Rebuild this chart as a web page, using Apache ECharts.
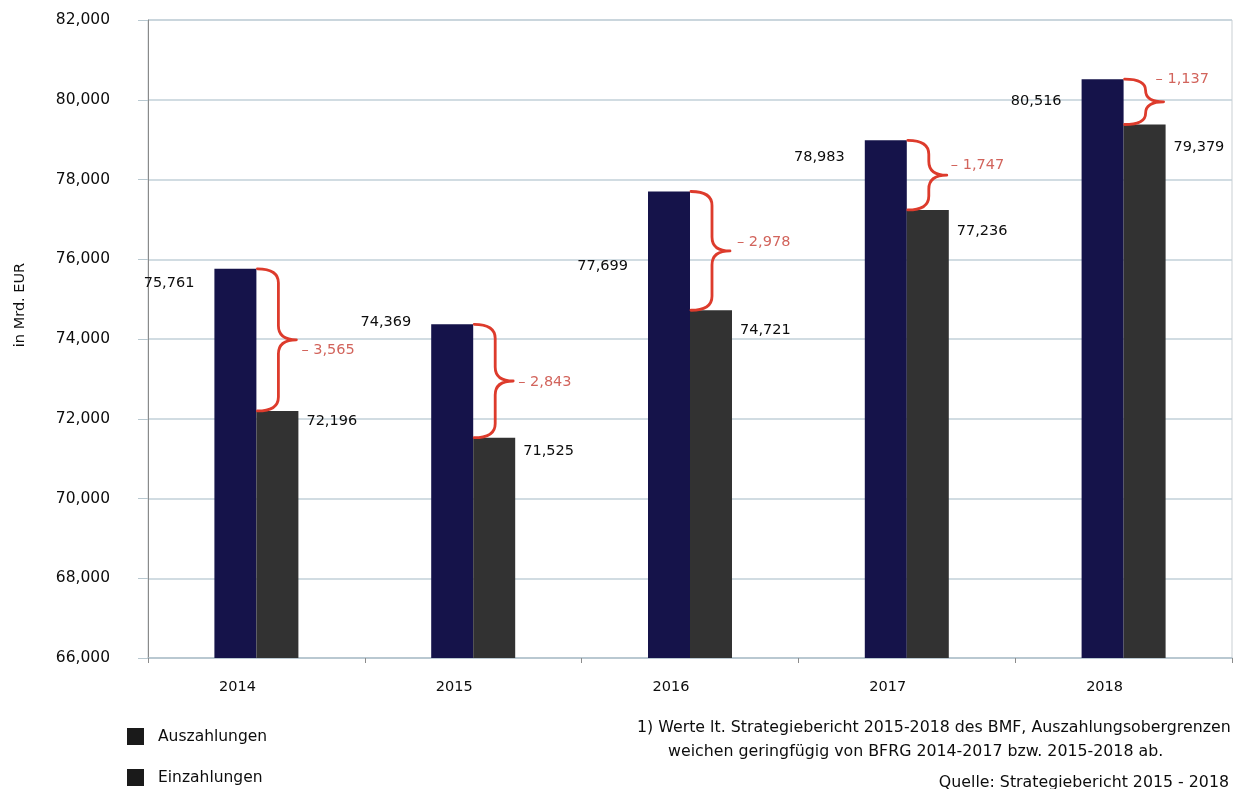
<!DOCTYPE html>
<html>
<head>
<meta charset="utf-8">
<script src="https://cdn.jsdelivr.net/npm/echarts@6/dist/echarts.min.js"></script>
<style>
  html, body { margin: 0; padding: 0; background: #ffffff; }
  #chart { width: 1237px; height: 789px; }
</style>
</head>
<body>
<div id="chart"></div>
<script>
// Budget years and amounts (Mrd. EUR)
const years = ['2014', '2015', '2016', '2017', '2018'];
const auszahlungen = [75761, 74369, 77699, 78983, 80516];
const einzahlungen = [72196, 71525, 74721, 77236, 79379];
const differenz = [3565, 2843, 2978, 1747, 1137];
const yMin = 66000, yMax = 82000, yStep = 2000;

// Vertical nudges of the value labels (px below the bar top)
const auszLabelDy = [14, -2, 75, 17, 22];
const einzLabelDy = [10, 14, 20, 21, 23];
// Placement of each gap label relative to the tip of its brace [dx, dy]
const diffLabelShift = [[5, 10], [5, 1], [7, -9], [4, -10], [-8, -23]];

const FONT = '"DejaVu Sans", sans-serif';
const TEXT = '#0d0d0d';
const NAVY = '#15134a';
const GREY = '#323232';
const RED = '#dd3b2c';
const RED_TEXT = '#d2645c';
const BAR_W = 42;

const fmt = v => Number(v).toLocaleString('en-US');

const chart = echarts.init(document.getElementById('chart'), null, { renderer: 'canvas' });

const auszData = auszahlungen.map((v, i) => ({
  value: v,
  label: { position: [-20, auszLabelDy[i]] }
}));
const einzData = einzahlungen.map((v, i) => ({
  value: v,
  label: { position: [BAR_W + 8, einzLabelDy[i]] }
}));
const braceData = years.map((y, i) => [i, auszahlungen[i], einzahlungen[i], differenz[i]]);

// Curly brace between the tops of the two bars of a year, with the gap value
function renderBrace(params, api) {
  const idx = api.value(0);
  const top = api.coord([idx, api.value(1)]);
  const bot = api.coord([idx, api.value(2)]);
  const x0 = top[0] + 1;
  const xv = x0 + 21;
  const xp = x0 + 39;
  const yT = top[1], yB = bot[1], yM = (yT + yB) / 2;
  const h = yB - yT;
  const r = Math.min(14, h / 4);
  const d = [
    'M', x0, yT,
    'Q', xv, yT, xv, yT + r,
    'L', xv, yM - r,
    'Q', xv, yM, xp, yM,
    'Q', xv, yM, xv, yM + r,
    'L', xv, yB - r,
    'Q', xv, yB, x0, yB
  ].join(' ');
  const shift = diffLabelShift[params.dataIndex];
  return {
    type: 'group',
    children: [
      {
        type: 'path',
        shape: { pathData: d },
        style: { fill: 'none', stroke: RED, lineWidth: 2.8, lineCap: 'round', lineJoin: 'round' }
      },
      {
        type: 'text',
        style: {
          text: '\u2013 ' + fmt(api.value(3)),
          x: xp + shift[0],
          y: yM + shift[1],
          align: 'left',
          verticalAlign: 'middle',
          fill: RED_TEXT,
          font: '14.5px ' + FONT
        }
      }
    ]
  };
}

const option = {
  backgroundColor: '#ffffff',
  animation: false,
  textStyle: { fontFamily: FONT },
  grid: {
    left: 148, right: 5, top: 20, bottom: 131,
    show: true, borderColor: '#c9cfd3', borderWidth: 1
  },
  legend: {
    orient: 'vertical',
    left: 127, top: 728,
    padding: 0,
    itemWidth: 17, itemHeight: 17, itemGap: 24,
    icon: 'rect',
    data: [
      { name: 'Auszahlungen', itemStyle: { color: '#1a1a1a' } },
      { name: 'Einzahlungen', itemStyle: { color: '#1a1a1a' } }
    ],
    textStyle: { fontFamily: FONT, fontSize: 15.5, color: TEXT, padding: [0, 0, 0, 9], lineHeight: 17 }
  },
  xAxis: {
    type: 'category',
    data: years,
    axisLine: { show: true, lineStyle: { color: '#b4c4cd', width: 1.5 } },
    axisTick: { show: true, length: 5, lineStyle: { color: '#8c8c8c' } },
    axisLabel: {
      margin: 22, fontSize: 14.5, color: TEXT, fontFamily: FONT,
      padding: [0, 38, 0, 0]
    },
    splitLine: { show: false }
  },
  yAxis: {
    type: 'value',
    min: yMin, max: yMax, interval: yStep,
    axisLine: { show: true, lineStyle: { color: '#8a8a8a', width: 1 } },
    axisTick: { show: true, length: 10, lineStyle: { color: '#b8c8d0' } },
    axisLabel: { margin: 38, fontSize: 15.5, color: TEXT, fontFamily: FONT, formatter: v => fmt(v) },
    splitLine: { show: true, lineStyle: { color: '#c2d0d8', width: 1.5 } }
  },
  graphic: [
    {
      type: 'text',
      x: 20, y: 305, rotation: Math.PI / 2,
      style: { text: 'in Mrd. EUR', font: '14.5px ' + FONT, fill: TEXT, align: 'center', verticalAlign: 'middle' }
    },
    {
      type: 'text', x: 637, y: 728,
      style: { text: '1) Werte lt. Strategiebericht 2015-2018 des BMF, Auszahlungsobergrenzen', font: '15.8px ' + FONT, fill: TEXT, align: 'left', verticalAlign: 'middle' }
    },
    {
      type: 'text', x: 668, y: 752,
      style: { text: 'weichen geringfügig von BFRG 2014-2017 bzw. 2015-2018 ab.', font: '15.8px ' + FONT, fill: TEXT, align: 'left', verticalAlign: 'middle' }
    },
    {
      type: 'text', x: 1229, y: 783,
      style: { text: 'Quelle: Strategiebericht 2015 - 2018', font: '15.8px ' + FONT, fill: TEXT, align: 'right', verticalAlign: 'middle' }
    }
  ],
  series: [
    {
      name: 'Auszahlungen',
      type: 'bar',
      barWidth: BAR_W,
      barGap: '0%',
      itemStyle: { color: NAVY },
      label: {
        show: true, align: 'right', verticalAlign: 'middle',
        fontSize: 14.5, color: TEXT, fontFamily: FONT,
        formatter: p => fmt(p.value)
      },
      data: auszData,
      z: 2
    },
    {
      name: 'Einzahlungen',
      type: 'bar',
      barWidth: BAR_W,
      barGap: '0%',
      itemStyle: { color: GREY },
      label: {
        show: true, align: 'left', verticalAlign: 'middle',
        fontSize: 14.5, color: TEXT, fontFamily: FONT,
        formatter: p => fmt(p.value)
      },
      data: einzData,
      z: 2
    },
    {
      name: 'Differenz',
      type: 'custom',
      renderItem: renderBrace,
      encode: { x: 0, y: [1, 2] },
      data: braceData,
      clip: false,
      silent: true,
      z: 5
    }
  ]
};

chart.setOption(option);
</script>
</body>
</html>
